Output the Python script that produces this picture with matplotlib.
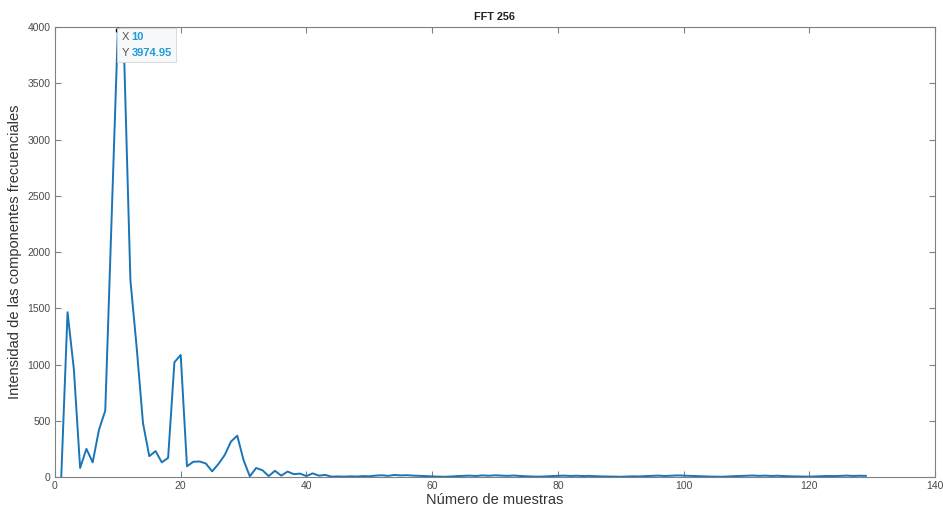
import matplotlib
matplotlib.use("Agg")
import matplotlib.pyplot as plt
from matplotlib.offsetbox import TextArea, HPacker, VPacker, AnnotationBbox

plt.rcParams["font.family"] = ["Liberation Sans", "DejaVu Sans"]

# Magnitud del espectro (primeras 129 muestras de la FFT de 256 puntos)
muestras = list(range(1, 130))
intensidad = [
    0, 1465, 960, 80, 250, 130, 420, 590, 2280, 3974.95,
    3750, 1750, 1150, 480, 185, 230, 130, 170, 1020, 1085,
    95, 135, 138, 120, 50, 115, 195, 315, 367, 150,
    5, 80, 60, 8, 55, 12, 48, 25, 30, 8,
    32, 12, 18, 3,
    5, 3, 6, 4, 8, 6,
    12, 15, 10, 18, 14, 16, 12, 10,
    8, 5, 3, 2, 4,
    8, 10, 12, 9, 14, 11, 15, 12, 10, 13,
    9, 6, 4, 3, 5, 8, 10,
    12, 9, 11, 8, 10, 7, 5, 4, 3, 2,
    4, 6, 5, 8, 10, 12, 9, 11, 14, 12,
    10, 8, 6, 4, 3, 2, 4, 7, 9, 11,
    13, 10, 12, 9, 11, 8, 6, 5, 4, 3,
    5, 7, 9, 8, 10, 12, 9, 11, 10,
]

pico_x = 10
pico_y = 3974.95

x_ticks = [0, 20, 40, 60, 80, 100, 120, 140]
y_ticks = [0, 500, 1000, 1500, 2000, 2500, 3000, 3500, 4000]

AXIS_GRAY = "#808080"
TEXT_GRAY = "#4a4a4a"
LINE_BLUE = "#1a74b8"
TIP_BLUE = "#1f9bd7"

fig = plt.figure(figsize=(9.43, 5.12), dpi=100)
ax = fig.add_axes([0.0583, 0.0684, 0.9332, 0.8786])

ax.plot(muestras, intensidad, color=LINE_BLUE, linewidth=1.4)
ax.plot([pico_x], [pico_y], "o", color="black", markersize=3, zorder=5,
        clip_on=False)

ax.set_xlim(0, 140)
ax.set_ylim(0, 4000)
ax.set_xticks(x_ticks)
ax.set_yticks(y_ticks)

for s in ax.spines.values():
    s.set_color(AXIS_GRAY)
    s.set_linewidth(0.8)
ax.tick_params(direction="in", length=4, width=0.8, color=AXIS_GRAY,
               labelsize=7.5, labelcolor=TEXT_GRAY, top=True, right=True,
               pad=3)

ax.set_title("FFT 256", fontsize=7.8, fontweight="bold", color="#222222",
             pad=5)
ax.set_xlabel("Número de muestras", fontsize=10.5, color="#333333",
              labelpad=1)
ax.set_ylabel("Intensidad de las componentes frecuenciales", fontsize=10.5,
              color="#333333", labelpad=4)

# Cuadro del data tip junto al pico
def fila(etiqueta, valor):
    return HPacker(children=[
        TextArea(etiqueta, textprops=dict(color="#555555", fontsize=8)),
        TextArea(valor, textprops=dict(color=TIP_BLUE, fontsize=8,
                                       fontweight="bold")),
    ], pad=0, sep=2)

caja = VPacker(children=[fila("X", f"{pico_x:g}"), fila("Y", f"{pico_y:.2f}")],
               pad=0, sep=4)
tip = AnnotationBbox(caja, (pico_x, pico_y), xybox=(2.5, -1.5),
                     xycoords="data", boxcoords="offset points",
                     box_alignment=(0, 1), pad=0.55,
                     bboxprops=dict(facecolor="#f7f8fa", edgecolor="#d5d5d5",
                                    linewidth=0.6, boxstyle="square"))
tip.set_zorder(6)
ax.add_artist(tip)

fig.savefig("out.png", dpi=100)
